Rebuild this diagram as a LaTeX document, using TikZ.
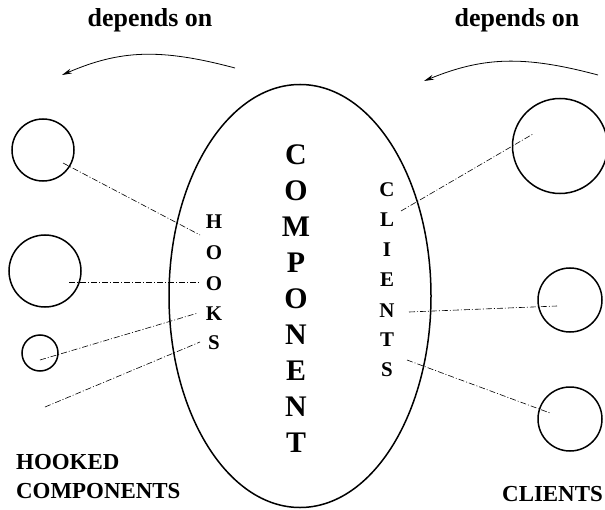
\documentclass[tikz,border=0pt]{standalone}
\usepackage{fontspec}
\setmainfont{Liberation Serif}
\usetikzlibrary{shapes.geometric,arrows.meta}
\begin{document}
\begin{tikzpicture}[x=1bp,y=-1bp,
  blob/.style={ellipse,draw,line width=1.5bp,inner sep=0pt,minimum width=262bp,minimum height=423bp},
  ring/.style={circle,draw,line width=1.5bp,inner sep=0pt},
  link/.style={line width=0.6bp,dash pattern=on 6bp off 2bp on 1bp off 2bp},
  dep/.style={line width=0.8bp,-{Stealth[length=10bp,width=5bp]}},
  letter/.style={font=\bfseries\fontsize{21}{21}\selectfont,inner sep=0pt},
  big/.style={font=\bfseries\fontsize{30}{30}\selectfont,inner sep=0pt},
  lab/.style={font=\bfseries\fontsize{23}{23}\selectfont,inner sep=0pt},
  deplab/.style={font=\bfseries\fontsize{26}{26}\selectfont,inner sep=0pt}
]
\useasboundingbox (0,0) rectangle (605,510);

% main ellipse
\node[blob] (comp) at (300,296) {};

% circles
\node[ring,minimum size=62bp] (k1) at (43,150) {};
\node[ring,minimum size=72bp] (k2) at (45,271) {};
\node[ring,minimum size=36bp] (k3) at (40,353) {};
\node[ring,minimum size=95bp] (c1) at (560,146) {};
\node[ring,minimum size=64bp] (c2) at (570,300) {};
\node[ring,minimum size=64bp] (c3) at (570,419) {};

% COMPONENT
\foreach \l [count=\i from 0] in {C,O,M,P,O,N,E,N,T}
  \node[big] (m\i) at (296,155+36*\i) {\l};

% HOOKS
\foreach \l/\y [count=\i] in {H/222,O/253,O/284,K/314,S/343}
  \node[letter] (h\i) at (214,\y) {\l};

% CLIENTS
\foreach \l/\y [count=\i] in {C/190,L/220,I/250,E/280,N/311,T/340,S/370}
  \node[letter] (q\i) at (387,\y) {\l};

% labels
\node[deplab] (d1) at (150,20) {depends on};
\node[deplab] (d2) at (517,20) {depends on};
\node[lab,anchor=west] (hk) at (16,462) {HOOKED};
\node[lab,anchor=west] (hc) at (16,491) {COMPONENTS};
\node[lab,anchor=west] (cl) at (502,494) {CLIENTS};

% link end points
\coordinate (a1) at (63,163);  \coordinate (b1) at (200,235);
\coordinate (a2) at (69,282);  \coordinate (b2) at (200,282);
\coordinate (a3) at (40,360);  \coordinate (b3) at (198,313);
\coordinate (a4) at (45,407);  \coordinate (b4) at (200,342);
\coordinate (e1) at (401,211); \coordinate (f1) at (533,134);
\coordinate (e2) at (409,312); \coordinate (f2) at (557,306);
\coordinate (e3) at (407,360); \coordinate (f3) at (550,413);

\draw[link] (a1) -- (b1);
\draw[link] (a2) -- (b2);
\draw[link] (a3) -- (b3);
\draw[link] (a4) -- (b4);
\draw[link] (e1) -- (f1);
\draw[link] (e2) -- (f2);
\draw[link] (e3) -- (f3);

% depends-on arrows
\coordinate (s1) at (235,68);  \coordinate (t1) at (62,75);
\coordinate (s2) at (598,75);  \coordinate (t2) at (424,81);
\draw[dep] (s1) .. controls (160,48) and (120,50) .. (t1);
\draw[dep] (s2) .. controls (523,55) and (483,57) .. (t2);
\end{tikzpicture}
\end{document}
